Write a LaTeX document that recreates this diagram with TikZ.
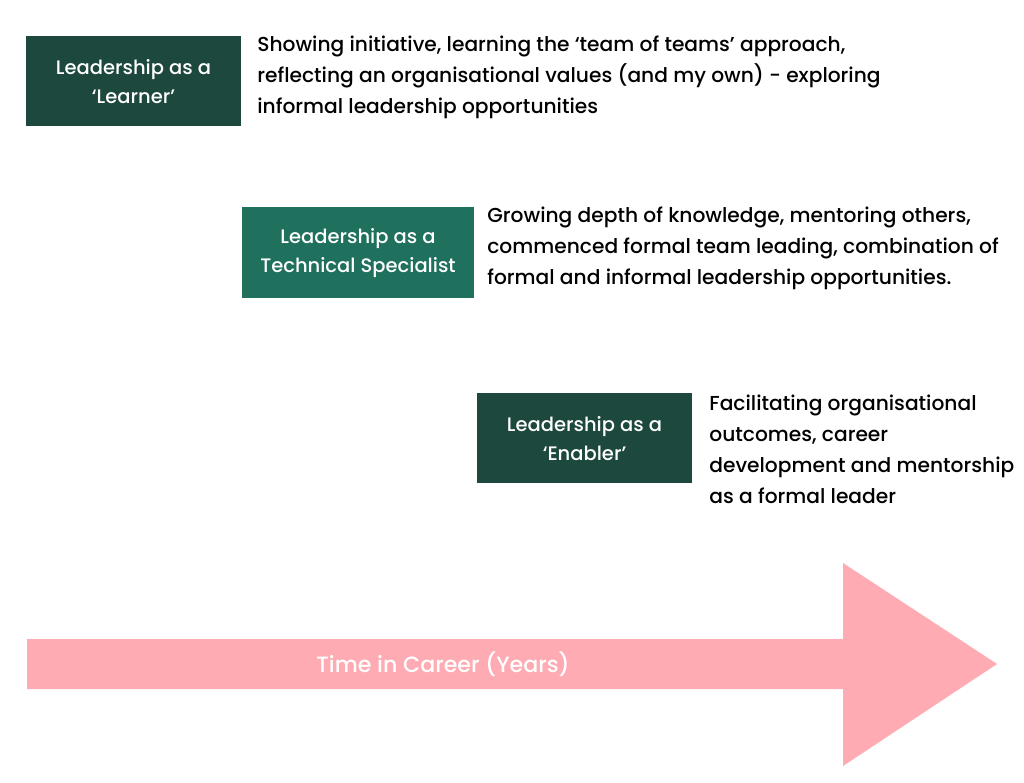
\documentclass[tikz,border=0pt]{standalone}
\usepackage{fontspec}
\setmainfont{Poppins}
\newfontfamily\medfont{Poppins Medium}
\usepackage{xcolor}
\usetikzlibrary{calc,positioning}
\definecolor{darkgreen}{HTML}{1D483D}
\definecolor{midgreen}{HTML}{1F705D}
\definecolor{arrowpink}{HTML}{FFABB3}

\begin{document}
\begin{tikzpicture}[x=0.02cm,y=-0.02cm,
    rolebox/.style={fill=#1, text=white, inner sep=0pt, align=center,
      font=\medfont\fontsize{11.1}{16.5}\selectfont},
    desc/.style={anchor=west, inner sep=0pt, align=left,
      font=\medfont\fontsize{11.5}{17.6}\selectfont}]
       \useasboundingbox (0,0) rectangle (1024,783);

       % role boxes
       \node[rolebox=darkgreen, minimum width=215*0.02cm, minimum height=90*0.02cm] (L) at (133.5,81.5) {Leadership as a\\‘Learner’};
       \node[rolebox=midgreen, minimum width=232*0.02cm, minimum height=91*0.02cm] (T) at (358,253) {Leadership as a\\Technical Specialist};
       \node[rolebox=darkgreen, minimum width=215*0.02cm, minimum height=90*0.02cm] (E) at (584.5,438.5) {Leadership as a\\‘Enabler’};

       % descriptions
       \node[desc] (Ld) at (257,77.5) {Showing initiative, learning the ‘team of teams’ approach,\\reflecting an organisational values (and my own) - exploring\\informal leadership opportunities};
       \node[desc] (Td) at (487,248.5) {Growing depth of knowledge, mentoring others,\\commenced formal team leading, combination of\\formal and informal leadership opportunities.};
       \node[desc] (Ed) at (709,449.5) {Facilitating organisational\\outcomes, career\\development and mentorship\\as a formal leader};

       % time arrow
       \coordinate (S1) at (27,639);
       \coordinate (S2) at (843,639);
       \coordinate (H1) at (843,563);
       \coordinate (Tip) at (997,664);
       \coordinate (H2) at (843,766);
       \coordinate (S3) at (843,689);
       \coordinate (S4) at (27,689);
       \fill[arrowpink] (S1) -- (S2) -- (H1) -- (Tip) -- (H2) -- (S3) -- (S4) -- cycle;
       \node[text=white, font=\medfont\fontsize{12.6}{14}\selectfont] (time) at (443,664) {Time in Career (Years)};
\end{tikzpicture}
\end{document}
